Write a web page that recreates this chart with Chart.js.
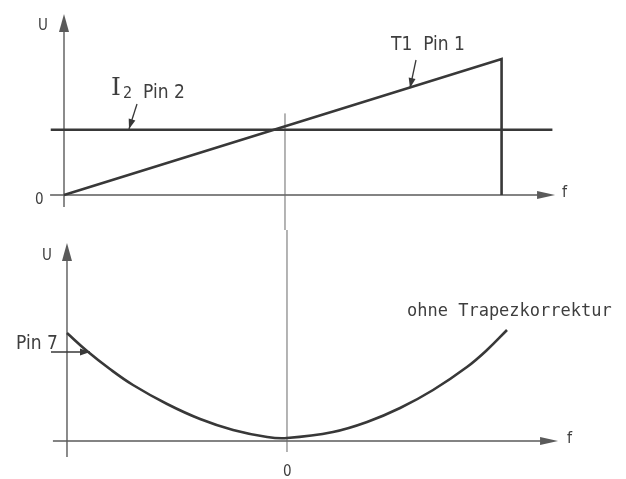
<!DOCTYPE html>
<html>
<head>
<meta charset="utf-8">
<script src="https://cdn.jsdelivr.net/npm/chart.js@4.4.1/dist/chart.umd.min.js"></script>
<style>
    html, body { margin: 0; padding: 0; background: #fff; }
    #wrap { position: relative; width: 626px; height: 479px; }
    canvas { position: absolute; left: 0; }
    #topChart { top: 0; }
    #bottomChart { top: 230px; }
</style>
</head>
<body>
<div id="wrap">
    <canvas id="topChart" width="626" height="230" style="width:626px;height:230px"></canvas>
    <canvas id="bottomChart" width="626" height="249" style="width:626px;height:249px"></canvas>
</div>
<script>
// Oberes Diagramm: Saegezahn an T1 Pin 1 und Pegel an I2 Pin 2
const rampF = [-1, 0.98, 0.98];
const rampU = [0, 1, 0];
const levelF = [-1.06, 1.21];
const levelU = [0.48, 0.48];

// Unteres Diagramm: Pin 7 ohne Trapezkorrektur
const curveF = [-1, -0.909, -0.805, -0.70, -0.545, -0.395, -0.245, -0.09, 0, 0.209, 0.364, 0.514, 0.664, 0.818, 0.909, 1.0];
const curveU = [1.08, 0.90, 0.72, 0.56, 0.37, 0.22, 0.11, 0.04, 0.03, 0.09, 0.19, 0.33, 0.51, 0.74, 0.91, 1.11];

const INK = '#383838';
const AXIS = '#5a5a5a';
const TEXT = '#3e3e3e';
const LABEL_FONT = '"DejaVu Sans Condensed", "DejaVu Sans", sans-serif';

function toPoints(xs, ys) {
    return xs.map((x, i) => ({ x: x, y: ys[i] }));
}

function drawHead(ctx, x1, y1, x2, y2, len, w) {
    const a = Math.atan2(y2 - y1, x2 - x1);
    ctx.beginPath();
    ctx.moveTo(x2, y2);
    ctx.lineTo(x2 - len * Math.cos(a) + (w / 2) * Math.sin(a), y2 - len * Math.sin(a) - (w / 2) * Math.cos(a));
    ctx.lineTo(x2 - len * Math.cos(a) - (w / 2) * Math.sin(a), y2 - len * Math.sin(a) + (w / 2) * Math.cos(a));
    ctx.closePath();
    ctx.fill();
}

// Achsen mit Pfeilspitzen, Beschriftungen und Hinweispfeile
const sketchPlugin = {
    id: 'sketch',
    beforeDatasetsDraw(chart, args, opts) {
        const ctx = chart.ctx;
        const xs = chart.scales.x;
        const ys = chart.scales.y;
        ctx.save();
        ctx.strokeStyle = AXIS;
        ctx.fillStyle = AXIS;
        ctx.lineWidth = 1.4;

        // f-Achse
        const ax = opts.axes;
        const y0 = ys.getPixelForValue(0);
        const xa = xs.getPixelForValue(ax.fFrom);
        const xb = xs.getPixelForValue(ax.fTo);
        ctx.beginPath();
        ctx.moveTo(xa, y0);
        ctx.lineTo(xb - 10, y0);
        ctx.stroke();
        drawHead(ctx, xa, y0, xb, y0, 18, 8);

        // U-Achse
        const x0 = xs.getPixelForValue(ax.uAt);
        const ya = ys.getPixelForValue(ax.uFrom);
        const yb = ys.getPixelForValue(ax.uTo);
        ctx.beginPath();
        ctx.moveTo(x0, ya);
        ctx.lineTo(x0, yb + 10);
        ctx.stroke();
        drawHead(ctx, x0, ya, x0, yb, 18, 10);

        // Mittellinie bei f = 0
        const xc = xs.getPixelForValue(0);
        ctx.lineWidth = 1;
        ctx.strokeStyle = '#6a6a6a';
        ctx.beginPath();
        ctx.moveTo(xc, ys.getPixelForValue(opts.center.from));
        ctx.lineTo(xc, ys.getPixelForValue(opts.center.to));
        ctx.stroke();
        ctx.restore();
    },
    afterDatasetsDraw(chart, args, opts) {
        const ctx = chart.ctx;
        ctx.save();
        ctx.fillStyle = TEXT;
        ctx.textBaseline = 'alphabetic';
        opts.texts.forEach(t => {
            ctx.font = t.font;
            ctx.fillText(t.text, t.x, t.y);
        });
        ctx.strokeStyle = INK;
        ctx.fillStyle = INK;
        ctx.lineWidth = 1.3;
        opts.leaders.forEach(l => {
            ctx.beginPath();
            ctx.moveTo(l[0], l[1]);
            ctx.lineTo(l[2], l[3]);
            ctx.stroke();
            drawHead(ctx, l[0], l[1], l[2], l[3], 10, 7);
        });
        ctx.restore();
    }
};

function baseOptions(xMin, xMax, yMin, yMax, sketch) {
    return {
        responsive: false,
        animation: false,
        layout: { padding: 0 },
        scales: {
            x: { type: 'linear', display: false, min: xMin, max: xMax },
            y: { type: 'linear', display: false, min: yMin, max: yMax }
        },
        plugins: {
            legend: { display: false },
            tooltip: { enabled: false },
            sketch: sketch
        }
    };
}

new Chart(document.getElementById('topChart').getContext('2d'), {
    type: 'line',
    data: {
        datasets: [
            {
                label: 'T1 Pin 1',
                data: toPoints(rampF, rampU),
                borderColor: INK,
                borderWidth: 2.6,
                pointRadius: 0,
                fill: false,
                tension: 0
            },
            {
                label: 'I2 Pin 2',
                data: toPoints(levelF, levelU),
                borderColor: INK,
                borderWidth: 2.6,
                pointRadius: 0,
                fill: false,
                tension: 0
            }
        ]
    },
    options: baseOptions(-1.2896, 1.543, -0.2574, 1.4338, {
        axes: { fFrom: -1.063, fTo: 1.222, uAt: -1, uFrom: -0.088, uTo: 1.331 },
        center: { from: 0.60, to: -0.35 },
        texts: [
            { text: 'U', x: 38, y: 30, font: '15px ' + LABEL_FONT },
            { text: '0', x: 35, y: 204, font: '15px ' + LABEL_FONT },
            { text: 'f', x: 562, y: 197, font: '16px ' + LABEL_FONT },
            { text: 'I', x: 111, y: 95, font: '25px "DejaVu Serif", serif' },
            { text: '2', x: 123, y: 98, font: '16px ' + LABEL_FONT },
            { text: 'Pin 2', x: 143, y: 98, font: '19px ' + LABEL_FONT },
            { text: 'T1  Pin 1', x: 391, y: 50, font: '19px ' + LABEL_FONT }
        ],
        leaders: [
            [416, 60, 410, 88],
            [137, 104, 129, 129]
        ]
    }),
    plugins: [sketchPlugin]
});

new Chart(document.getElementById('bottomChart').getContext('2d'), {
    type: 'line',
    data: {
        datasets: [
            {
                label: 'Pin 7',
                data: toPoints(curveF, curveU),
                borderColor: INK,
                borderWidth: 2.6,
                pointRadius: 0,
                fill: false,
                tension: 0.4
            }
        ]
    },
    options: baseOptions(-1.3045, 1.5409, -0.38, 2.11, {
        axes: { fFrom: -1.064, fTo: 1.232, uAt: -1, uFrom: -0.16, uTo: 1.98 },
        center: { from: 2.3, to: -0.11 },
        texts: [
            { text: 'U', x: 42, y: 30, font: '15px ' + LABEL_FONT },
            { text: 'Pin 7', x: 16, y: 119, font: '19px ' + LABEL_FONT },
            { text: 'ohne Trapezkorrektur', x: 407, y: 86, font: '17px "DejaVu Sans Mono", monospace' },
            { text: '0', x: 283, y: 246, font: '15px ' + LABEL_FONT },
            { text: 'f', x: 567, y: 213, font: '16px ' + LABEL_FONT }
        ],
        leaders: [
            [51, 122, 90, 122]
        ]
    }),
    plugins: [sketchPlugin]
});
</script>
</body>
</html>
